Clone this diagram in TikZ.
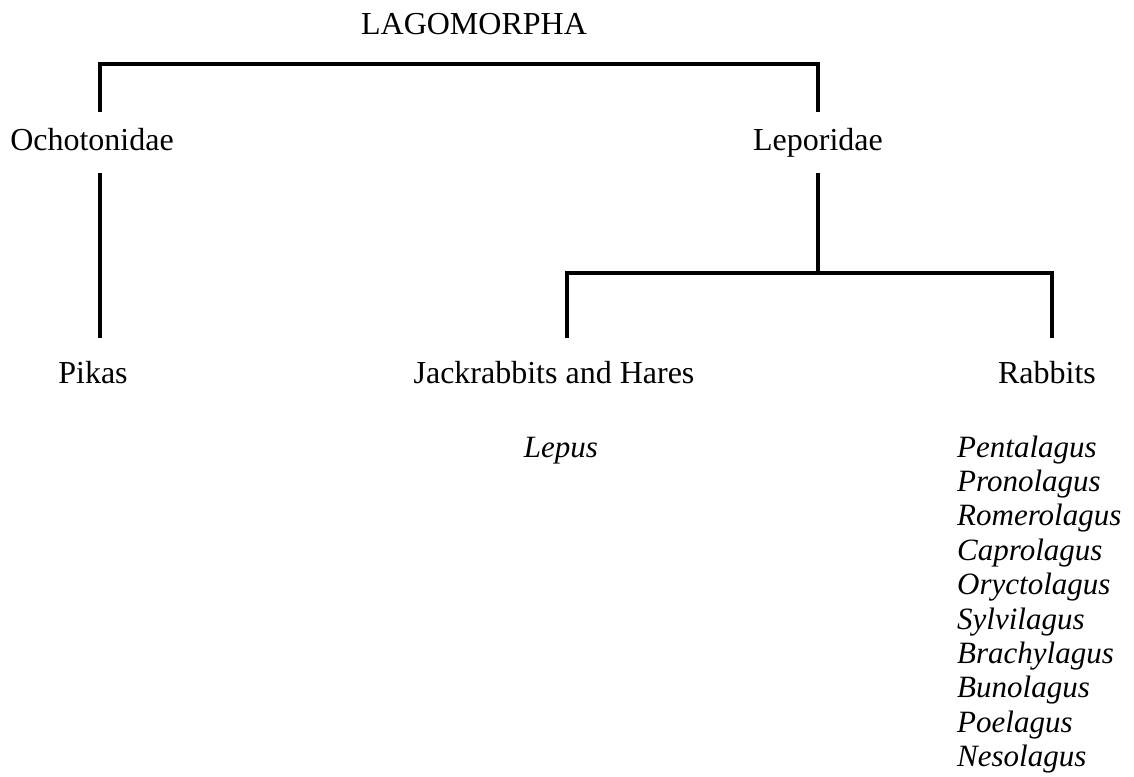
\documentclass[tikz,border=0pt]{standalone}
\usepackage{fontspec}
\setmainfont{Liberation Serif}
\usepackage{tikz}

\begin{document}
\begin{tikzpicture}[x=1pt, y=-1pt,
        taxon/.style={anchor=base, inner sep=0pt, outer sep=16pt, text height=22pt, text depth=7pt,
            font=\fontsize{32}{38}\selectfont},
        leaf/.style={taxon, outer sep=23pt},
        genus/.style={anchor=base west, inner sep=0pt, font=\fontsize{31}{37}\selectfont\itshape},
        branch/.style={line width=4pt, line cap=butt, line join=miter}]
        \useasboundingbox (0,0) rectangle (1134,776);

        \node[taxon] (lago) at (474, 35) {LAGOMORPHA};
        \node[taxon] (ocho) at (92, 150) {Ochotonidae};
        \node[taxon] (lepo) at (818, 150) {Leporidae};
        \node[leaf] (pika) at (93, 383) {Pikas};
        \node[leaf] (jack) at (554, 383) {Jackrabbits and Hares};
        \node[leaf] (rabb) at (1047, 383) {Rabbits};
        \node[genus, anchor=base] (lepus) at (561, 457) {Lepus};

        \foreach \g [count=\i] in {Pentalagus, Pronolagus, Romerolagus, Caprolagus, Oryctolagus,
                Sylvilagus, Brachylagus, Bunolagus, Poelagus, Nesolagus}
            \node[genus] (gen\i) at (957, 457+34.4*\i-34.4) {\g};

        \coordinate (lagoL) at (100, 64);
        \coordinate (lagoR) at (818, 64);
        \coordinate (lepoL) at (567, 273);
        \coordinate (lepoR) at (1052, 273);

        \draw[branch] (ocho.north -| lagoL) -- (lagoL) -- (lagoR) -- (lepo.north -| lagoR);
        \draw[branch] (ocho.south -| lagoL) -- (pika.north -| lagoL);
        \draw[branch] (lepo.south -| lagoR) -- (lepoL -| lagoR);
        \draw[branch] (jack.north -| lepoL) -- (lepoL) -- (lepoR) -- (rabb.north -| lepoR);
    \end{tikzpicture}
\end{document}
